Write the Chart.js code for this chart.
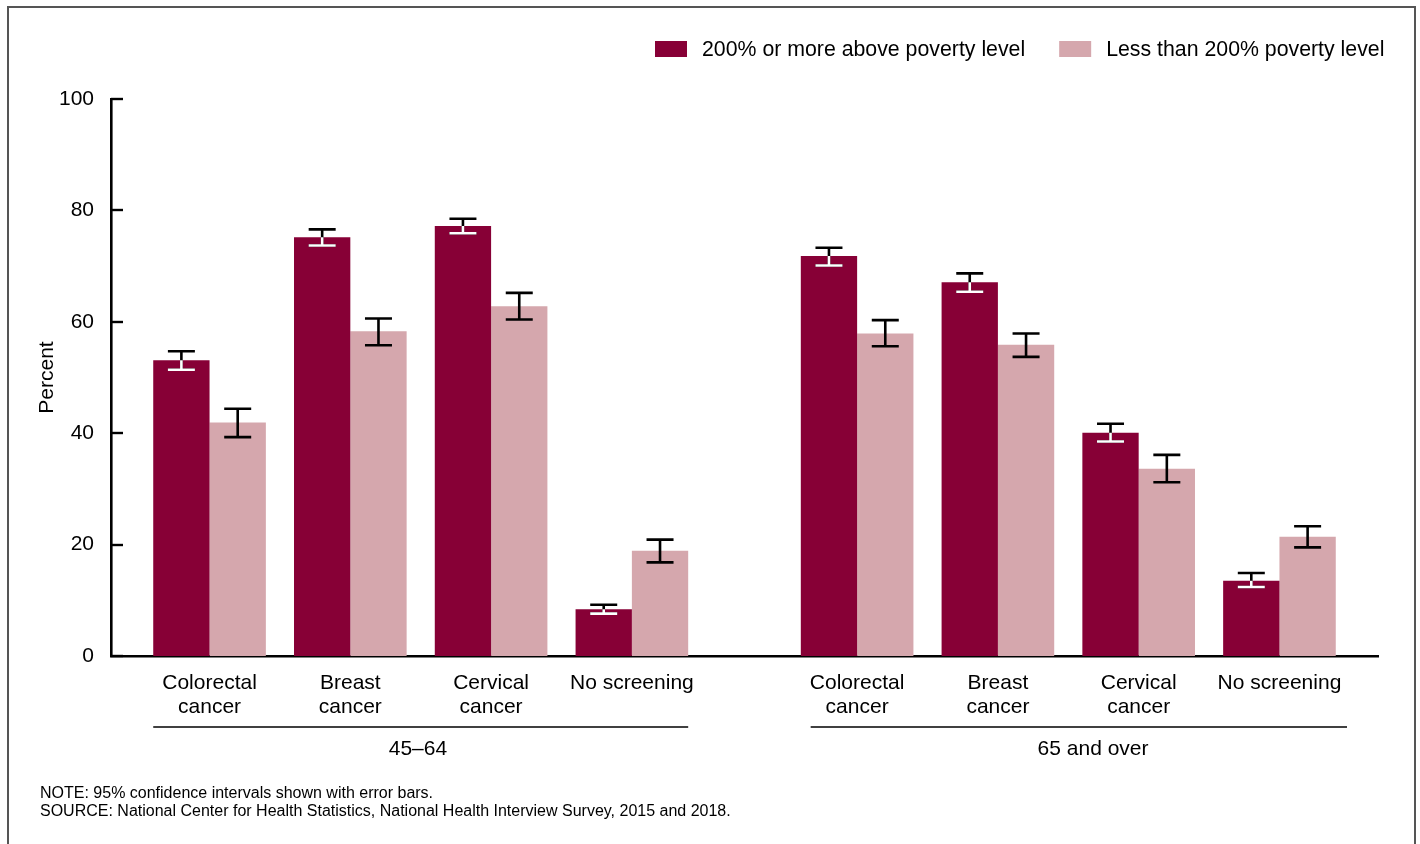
<!DOCTYPE html>
<html>
<head>
<meta charset="utf-8">
<title>Cancer screening by poverty level</title>
<script src="https://cdn.jsdelivr.net/npm/chart.js@4.4.1/dist/chart.umd.min.js"></script>
<style>
  html, body { margin: 0; padding: 0; background: #fff; }
  #wrap { position: relative; width: 1420px; height: 844px; overflow: hidden; }
  #frame { position: absolute; left: 7px; top: 6px; width: 1405px; height: 900px;
           border: 2px solid #555; pointer-events: none; }
  canvas { position: absolute; left: 0; top: 0; }
</style>
</head>
<body>
<div id="wrap">
  <canvas id="screeningChart" width="1420" height="844"></canvas>
  <div id="frame"></div>
</div>
<script>
// ------ data ------
var categories = [['Colorectal', 'cancer'], ['Breast', 'cancer'], ['Cervical', 'cancer'], ['No screening']]
var ageGroups = ['45–64', '65 and over']
var seriesNames = ['200% or more above poverty level', 'Less than 200% poverty level']

// 45–64 first, then 65 and over (same category order)
var abovePoverty = [53.1, 75.2, 77.2, 8.4, 71.8, 67.1, 40.1, 13.5]
var aboveLow     = [51.4, 73.7, 75.9, 7.6, 70.1, 65.4, 38.5, 12.4]
var aboveHigh    = [54.7, 76.6, 78.5, 9.2, 73.3, 68.7, 41.7, 14.9]

var belowPoverty = [41.9, 58.3, 62.8, 18.9, 57.9, 55.9, 33.6, 21.4]
var belowLow     = [39.3, 55.8, 60.4, 16.8, 55.6, 53.7, 31.2, 19.5]
var belowHigh    = [44.4, 60.6, 65.2, 20.9, 60.3, 57.9, 36.1, 23.3]

var yTicks = [0, 20, 40, 60, 80, 100]

// ------ layout (x axis runs 0..45, one pair every 5 units, wider gap between age groups) ------
var FONT = "'Liberation Sans', Arial, sans-serif"
var darkRed = 'rgb(135,0,54)'
var pink = 'rgb(213,167,173)'
var slots = []
ageGroups.forEach(function (g, gi) {
	categories.forEach(function (c, ci) {
		slots.push(3.5 + ci * 5 + gi * 23)
	})
})
var groupSpans = [
	{ from: 1.5, to: 20.5, mid: 10.9 },
	{ from: 24.85, to: 43.9, mid: 34.88 }
]
var allLabels = slots.map(function (s, i) { return categories[i % categories.length] })

function points(values) {
	return values.map(function (v, i) { return { x: slots[i], y: v } })
}

var data = {
	datasets: [{
		label: seriesNames[0],
		data: points(abovePoverty),
		backgroundColor: darkRed,
		borderWidth: 0,
		ciLow: aboveLow,
		ciHigh: aboveHigh
	}, {
		label: seriesNames[1],
		data: points(belowPoverty),
		backgroundColor: pink,
		borderWidth: 0,
		ciLow: belowLow,
		ciHigh: belowHigh
	}]
}

// error bars: black, but white where they sit on a dark bar
var errorBars = {
	id: 'errorBars',
	afterDatasetsDraw: function (chart) {
		var ctx = chart.ctx
		var y = chart.scales.y
		chart.data.datasets.forEach(function (ds, di) {
			var meta = chart.getDatasetMeta(di)
			meta.data.forEach(function (bar, i) {
				var x = bar.x
				var top = y.getPixelForValue(ds.ciHigh[i])
				var bot = y.getPixelForValue(ds.ciLow[i])
				var half = 13.5
				var path = function (color) {
					ctx.strokeStyle = color
					ctx.lineWidth = 2.6
					ctx.beginPath()
					ctx.moveTo(x, top); ctx.lineTo(x, bot)
					ctx.moveTo(x - half, top); ctx.lineTo(x + half, top)
					ctx.moveTo(x - half, bot); ctx.lineTo(x + half, bot)
					ctx.stroke()
				}
				ctx.save()
				path('#000')
				if (di === 0) {
					ctx.beginPath()
					ctx.rect(bar.x - bar.width / 2, bar.y, bar.width, bar.base - bar.y)
					ctx.clip()
					path('#fff')
				}
				ctx.restore()
			})
		})
	}
}

// inward y ticks, age group rules, legend and notes
var decorations = {
	id: 'decorations',
	afterDraw: function (chart) {
		var ctx = chart.ctx
		var xs = chart.scales.x
		var ys = chart.scales.y
		var area = chart.chartArea
		ctx.save()

		ctx.strokeStyle = '#000'
		ctx.lineWidth = 2.4
		yTicks.forEach(function (t) {
			var py = Math.round(ys.getPixelForValue(t))
			ctx.beginPath()
			ctx.moveTo(area.left, py)
			ctx.lineTo(area.left + 12, py)
			ctx.stroke()
		})

		ctx.lineWidth = 1.5
		ctx.fillStyle = '#000'
		ctx.font = '21px ' + FONT
		ctx.textAlign = 'center'
		ctx.textBaseline = 'middle'
		groupSpans.forEach(function (g, gi) {
			ctx.beginPath()
			ctx.moveTo(xs.getPixelForValue(g.from), 727)
			ctx.lineTo(xs.getPixelForValue(g.to), 727)
			ctx.stroke()
			ctx.fillText(ageGroups[gi], xs.getPixelForValue(g.mid), 749)
		})

		// legend
		var lx = 655
		ctx.textAlign = 'left'
		ctx.font = '21.3px ' + FONT
		chart.data.datasets.forEach(function (ds) {
			ctx.fillStyle = ds.backgroundColor
			ctx.fillRect(lx, 41, 32, 16)
			ctx.fillStyle = '#000'
			ctx.fillText(ds.label, lx + 47, 50.5)
			lx += 47 + ctx.measureText(ds.label).width + 34
		})

		ctx.font = '16px ' + FONT
		ctx.fillText('NOTE: 95% confidence intervals shown with error bars.', 40, 794)
		ctx.fillText('SOURCE: National Center for Health Statistics, National Health Interview Survey, 2015 and 2018.', 40, 812)
		ctx.restore()
	}
}

var options = {
	responsive: false,
	animation: false,
	layout: { padding: { left: 0, top: 99, right: 42, bottom: 0 } },
	datasets: { bar: { categoryPercentage: 0.8, barPercentage: 1.0 } },
	plugins: {
		legend: { display: false },
		tooltip: { enabled: false }
	},
	scales: {
		x: {
			type: 'linear',
			min: 0,
			max: 45,
			offset: false,
			afterBuildTicks: function (scale) {
				scale.ticks = slots.map(function (s) { return { value: s } })
			},
			afterFit: function (scale) { scale.height = 188 },
			grid: { display: false, drawTicks: false, offset: false },
			border: { display: true, color: '#000', width: 2.6 },
			ticks: {
				autoSkip: false,
				maxRotation: 0,
				padding: 15,
				color: '#000',
				font: { family: FONT, size: 21, lineHeight: 1.15 },
				callback: function (v, i) { return allLabels[i] }
			}
		},
		y: {
			min: 0,
			max: 100,
			afterFit: function (scale) { scale.width = 111 },
			afterBuildTicks: function (scale) {
				scale.ticks = yTicks.map(function (t) { return { value: t } })
			},
			grid: { display: false, drawTicks: false },
			border: { display: true, color: '#000', width: 2.6 },
			ticks: {
				padding: 17,
				color: '#000',
				font: { family: FONT, size: 21 }
			},
			title: {
				display: true,
				text: 'Percent',
				color: '#000',
				padding: { top: 35, bottom: 0 },
				font: { family: FONT, size: 21 }
			}
		}
	}
}

var ctx = document.getElementById('screeningChart')
var myChart = new Chart(ctx, {
	type: 'bar',
	data: data,
	options: options,
	plugins: [errorBars, decorations]
})
</script>
</body>
</html>
